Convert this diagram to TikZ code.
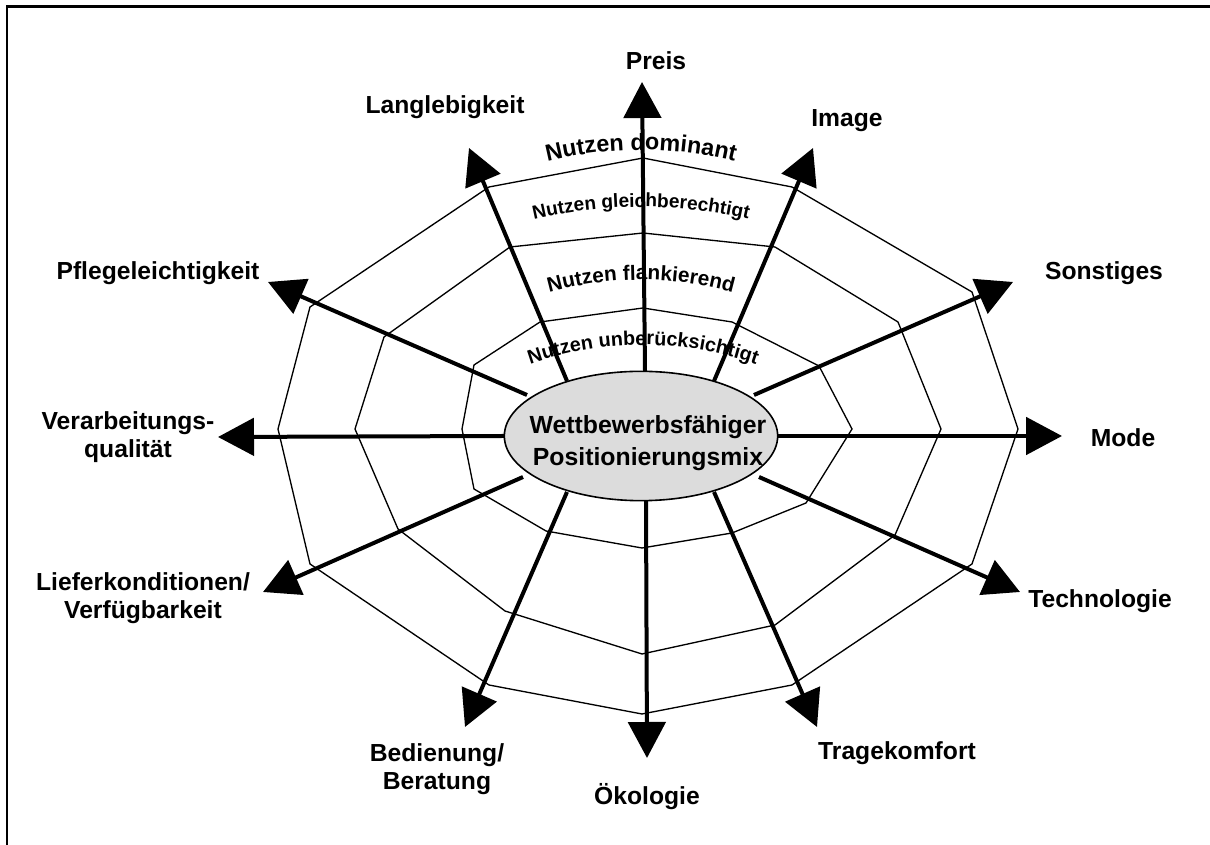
\documentclass[tikz,border=0pt]{standalone}
\usepackage{fontspec}
\setmainfont{Liberation Sans}
\usetikzlibrary{arrows.meta,shapes.geometric,decorations.text}
\definecolor{ellgray}{RGB}{220,220,220}
\begin{document}
\begin{tikzpicture}[x=0.75pt,y=0.75pt,
 spoke/.style={line width=3pt,-{Triangle[length=27pt,width=28pt]}},
 ring/.style={line width=1pt,line join=miter},
 lbl/.style={font=\fontsize{18.5}{21.5}\selectfont\bfseries,align=center,inner sep=0pt}]
\useasboundingbox (0,0) rectangle (1210,845);
\draw[line width=1.8pt] (7,0) -- (7,838.5) -- (1212,838.5);

% rings
\draw[ring] (643,687) -- (792,658) -- (972,553) -- (1018,416) -- (972,281) -- (792,160) -- (642,131) -- (489,160) -- (310,281) -- (278,416) -- (310,538) -- (489,658) -- cycle;
\draw[ring] (643,612) -- (775,598) -- (898,523) -- (941,416) -- (895,310) -- (775,220) -- (642,191) -- (505,234) -- (398,316) -- (355,416) -- (384,508) -- (510,598) -- cycle;
\draw[ring] (643,537) -- (732,523) -- (819,479) -- (852,416) -- (806,342) -- (732,312) -- (642,297) -- (546,314) -- (474,356) -- (462,416) -- (474,480) -- (540,523) -- cycle;

% arc texts
\path[decorate,decoration={text along path,text align=center,text={|\fontsize{17.5}{17.5}\selectfont\bfseries|Nutzen dominant}}] ([shift={(641,301)}]108:394) arc[start angle=108,end angle=72,radius=394];
\path[decorate,decoration={text along path,text align=center,text={|\fontsize{14.3}{14.3}\selectfont\bfseries|Nutzen gleichberechtigt}}] ([shift={(641,164)}]106:474) arc[start angle=106,end angle=74,radius=474];
\path[decorate,decoration={text along path,text align=center,text={|\fontsize{15.6}{15.6}\selectfont\bfseries|Nutzen flankierend}}] ([shift={(641,220)}]110:345) arc[start angle=110,end angle=70,radius=345];
\path[decorate,decoration={text along path,text align=center,text={|\fontsize{14.8}{14.8}\selectfont\bfseries|Nutzen unberücksichtigt}}] ([shift={(643,160)}]114:340) arc[start angle=114,end angle=66,radius=340];

% spokes
\coordinate (s1) at (645,474);  \coordinate (t1) at (642,763);
\coordinate (s2) at (714,464);  \coordinate (t2) at (813,697);
\coordinate (s3) at (754,450);  \coordinate (t3) at (1013,563);
\coordinate (s4) at (778,409);  \coordinate (t4) at (1062,409);
\coordinate (s5) at (759,368);  \coordinate (t5) at (1020,253);
\coordinate (s6) at (714,353);  \coordinate (t6) at (817,118);
\coordinate (s7) at (646,344);  \coordinate (t7) at (647,87);
\coordinate (s8) at (567,353);  \coordinate (t8) at (465,118);
\coordinate (s9) at (523,368);  \coordinate (t9) at (263,253);
\coordinate (s10) at (504,409); \coordinate (t10) at (218,408);
\coordinate (s11) at (527,450); \coordinate (t11) at (268,563);
\coordinate (s12) at (567,464); \coordinate (t12) at (469,697);
\foreach \i in {1,...,12} {\draw[spoke] (s\i) -- (t\i);}

% centre
\node[ellipse,draw,fill=ellgray,line width=1.2pt,minimum width=205pt,minimum height=97pt,inner sep=0pt] (c) at (641,409) {};
\node[lbl,font=\fontsize{18.6}{24}\selectfont\bfseries,anchor=north] (ctext) at (648,430) {Wettbewerbsfähiger\\Positionierungsmix};

% labels
\node[lbl,anchor=base] (preis) at (656,775) {Preis};
\node[lbl,anchor=base] (lang) at (445,731) {Langlebigkeit};
\node[lbl,anchor=base] (image) at (847,718) {Image};
\node[lbl,anchor=base] (sonst) at (1104,565) {Sonstiges};
\node[lbl,anchor=base] (mode) at (1123,398) {Mode};
\node[lbl,anchor=base] (tech) at (1100,237) {Technologie};
\node[lbl,anchor=base] (trage) at (897,85) {Tragekomfort};
\node[lbl,anchor=base] (oeko) at (647,40) {Ökologie};
\node[lbl,anchor=north] (bedien) at (437,102) {Bedienung/\\Beratung};
\node[lbl,anchor=north] (liefer) at (143,273) {Lieferkonditionen/\\Verfügbarkeit};
\node[lbl,anchor=north] (verarb) at (128,434) {Verarbeitungs-\\qualität};
\node[lbl,anchor=base] (pflege) at (158,565) {Pflegeleichtigkeit};
\end{tikzpicture}
\end{document}
